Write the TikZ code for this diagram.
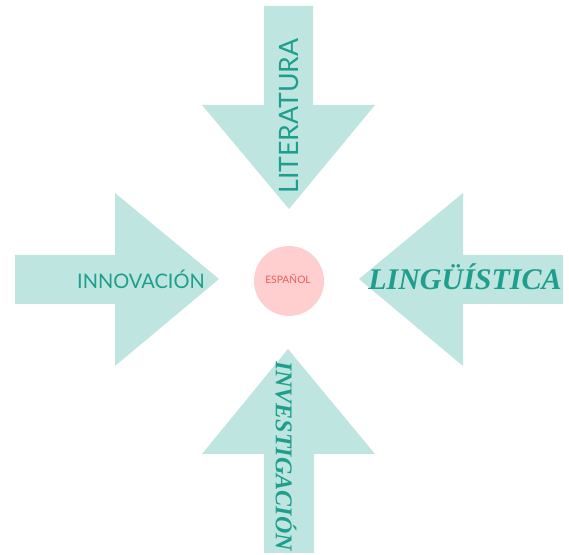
\documentclass[tikz,border=0pt]{standalone}
\usepackage{fontspec}
\setmainfont{Lato}
\newfontfamily\cursivefont{Liberation Serif}

\definecolor{arrowfill}{HTML}{BEE5DF}
\definecolor{labelteal}{HTML}{1E9E8C}
\definecolor{centerfill}{HTML}{FFCECE}
\definecolor{centertext}{HTML}{F05A5A}

\tikzset{every picture/.style={line width=0.75pt}}
\tikzset{
  arrowshape/.style={fill=arrowfill, draw=none},
  plainlabel/.style={text=labelteal, inner sep=0.75pt, font=\fontsize{#1}{#1}\selectfont},
  cursivelabel/.style={text=labelteal, inner sep=0.75pt, font=\cursivefont\bfseries\itshape\fontsize{#1}{#1}\selectfont},
}

\begin{document}
\begin{tikzpicture}[x=0.75pt,y=0.75pt,yscale=-1,xscale=1]
\useasboundingbox (0,0) rectangle (569,555);

%Shape: Down Arrow [id:top]
\draw [arrowshape] (264,6) -- (313,6) -- (313,105) -- (375,105) -- (289,209) -- (202,105) -- (264,105) -- cycle ;
%Shape: Right Arrow [id:left]
\draw [arrowshape] (15,255) -- (115,255) -- (115,193) -- (219,279) -- (115,366) -- (115,304) -- (15,304) -- cycle ;
%Shape: Left Arrow [id:right]
\draw [arrowshape] (563,255) -- (463,255) -- (463,193) -- (359,279) -- (463,366) -- (463,304) -- (563,304) -- cycle ;
%Shape: Up Arrow [id:bottom]
\draw [arrowshape] (264,553) -- (314,553) -- (314,454) -- (375,454) -- (288,349) -- (202,454) -- (264,454) -- cycle ;
%Shape: Circle [id:center]
\draw [fill=centerfill, draw=none] (289,281) circle (35) ;

% Text Node
\draw (289,116) node [plainlabel=20, rotate=90] (literatura) {LITERATURA};
% Text Node
\draw (141,279) node [plainlabel=15] (innovacion) {INNOVACIÓN};
% Text Node
\draw (465,277) node [cursivelabel=22.5] (linguistica) {LINGÜÍSTICA};
% Text Node
\draw (286,456) node [cursivelabel=18, rotate=-90] (investigacion) {INVESTIGACIÓN};
% Text Node
\draw (288,279) node [text=centertext, inner sep=0.75pt, font=\fontsize{7.7}{7.7}\selectfont] (espanol) {ESPAÑOL};

\end{tikzpicture}
\end{document}
